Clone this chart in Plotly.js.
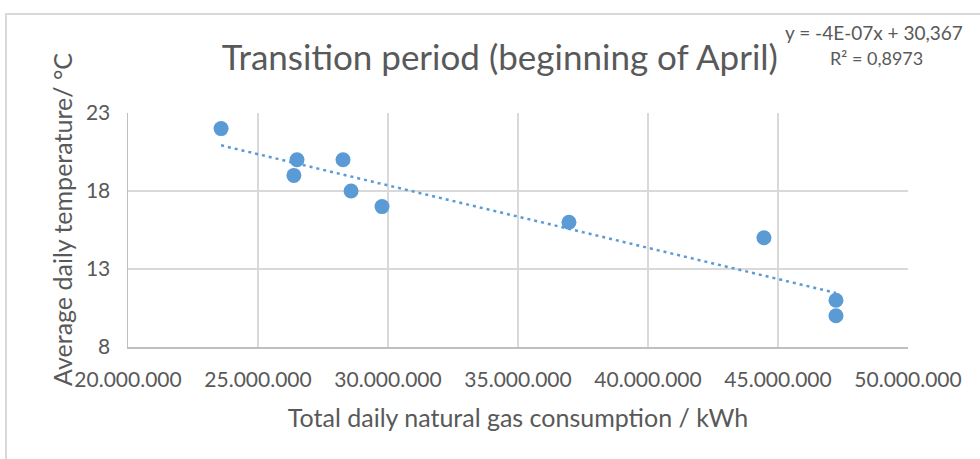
<!DOCTYPE html>
<html>
<head>
<meta charset="utf-8">
<script src="https://cdn.plot.ly/plotly-3.0.1.min.js"></script>
<style>
  html, body { margin: 0; padding: 0; background: #ffffff; }
  #wrap { position: relative; width: 980px; height: 459px; overflow: hidden; }
  #frame { position: absolute; left: 5px; top: 13px; width: 1000px; height: 500px;
           border-left: 2px solid #d9d9d9; border-top: 2px solid #d9d9d9; box-sizing: border-box; }
  #chart { position: absolute; left: 0; top: 0; width: 980px; height: 459px; }
</style>
</head>
<body>
<div id="wrap">
  <div id="frame"></div>
  <div id="chart"></div>
</div>
<script>
// Data
const gasConsumption = [23580000, 26500000, 26380000, 28270000, 28580000, 29770000, 36960000, 44460000, 47230000, 47230000];
const avgTemperature = [22, 20, 19, 20, 18, 17, 16, 15, 11, 10];

const chartTitle = 'Transition period (beginning of April)';
const xTitle = 'Total daily natural gas consumption / kWh';
const yTitle = 'Average daily temperature/ °C';
const equationText = 'y = -4E-07x + 30,367';
const r2Text = 'R² = 0,8973';

// Linear least-squares trendline (as Excel does)
const n = gasConsumption.length;
const mx = gasConsumption.reduce((a, b) => a + b, 0) / n;
const my = avgTemperature.reduce((a, b) => a + b, 0) / n;
let sxy = 0, sxx = 0;
for (let i = 0; i < n; i++) {
  sxy += (gasConsumption[i] - mx) * (avgTemperature[i] - my);
  sxx += (gasConsumption[i] - mx) ** 2;
}
const slope = sxy / sxx;
const intercept = my - slope * mx;
const xMin = Math.min(...gasConsumption), xMax = Math.max(...gasConsumption);
const trendX = [xMin, xMax];
const trendY = trendX.map(x => slope * x + intercept);

const FONT = 'Lato, "Open Sans", sans-serif';
const GREY = '#595959';
const BLUE = '#5b9bd5';

const traces = [
  {
    x: trendX, y: trendY, type: 'scatter', mode: 'lines',
    line: { color: BLUE, width: 2.5, dash: '3px,4px' },
    hoverinfo: 'skip', showlegend: false
  },
  {
    x: gasConsumption, y: avgTemperature, type: 'scatter', mode: 'markers',
    marker: { color: BLUE, size: 15 },
    showlegend: false
  }
];

const layout = {
  width: 980, height: 459,
  margin: { l: 128, r: 72, t: 113, b: 112, pad: 0 },
  paper_bgcolor: 'rgba(0,0,0,0)',
  plot_bgcolor: 'rgba(0,0,0,0)',
  separators: ',.',
  font: { family: FONT, color: GREY, size: 21 },
  title: {
    text: chartTitle,
    font: { family: FONT, size: 35, color: GREY },
    xref: 'container', x: 0.51, xanchor: 'center',
    yref: 'container', y: 0.874, yanchor: 'middle'
  },
  xaxis: {
    range: [20000000, 50000000], tick0: 20000000, dtick: 5000000,
    tickformat: ',', showgrid: true, gridcolor: '#d9d9d9', gridwidth: 1.5,
    showline: true, linecolor: '#bfbfbf', linewidth: 1.5,
    zeroline: false, ticks: '', ticklabelstandoff: 13,
    tickfont: { family: FONT, size: 21, color: GREY },
    title: { text: xTitle, font: { family: FONT, size: 25, color: GREY }, standoff: 20 }
  },
  yaxis: {
    range: [8, 23], tick0: 8, dtick: 5,
    showgrid: true, gridcolor: '#d9d9d9', gridwidth: 1.5,
    showline: true, linecolor: '#bfbfbf', linewidth: 1.5,
    zeroline: false, ticks: '', ticklabelstandoff: 12,
    tickfont: { family: FONT, size: 21, color: GREY }
  },
  annotations: [
    {
      text: yTitle, textangle: -90, showarrow: false,
      xref: 'paper', yref: 'paper', x: -0.0846, y: 0.543,
      xanchor: 'center', yanchor: 'middle',
      font: { family: FONT, size: 25, color: GREY }
    },
    {
      text: equationText, showarrow: false,
      xref: 'paper', yref: 'paper', x: 0.8397, y: 1.342,
      xanchor: 'left', yanchor: 'middle',
      font: { family: FONT, size: 19, color: GREY }
    },
    {
      text: r2Text, showarrow: false,
      xref: 'paper', yref: 'paper', x: 0.8974, y: 1.235,
      xanchor: 'left', yanchor: 'middle',
      font: { family: FONT, size: 18, color: GREY }
    }
  ],
  hovermode: false
};

Plotly.newPlot('chart', traces, layout, { staticPlot: true, displayModeBar: false });
</script>
</body>
</html>
